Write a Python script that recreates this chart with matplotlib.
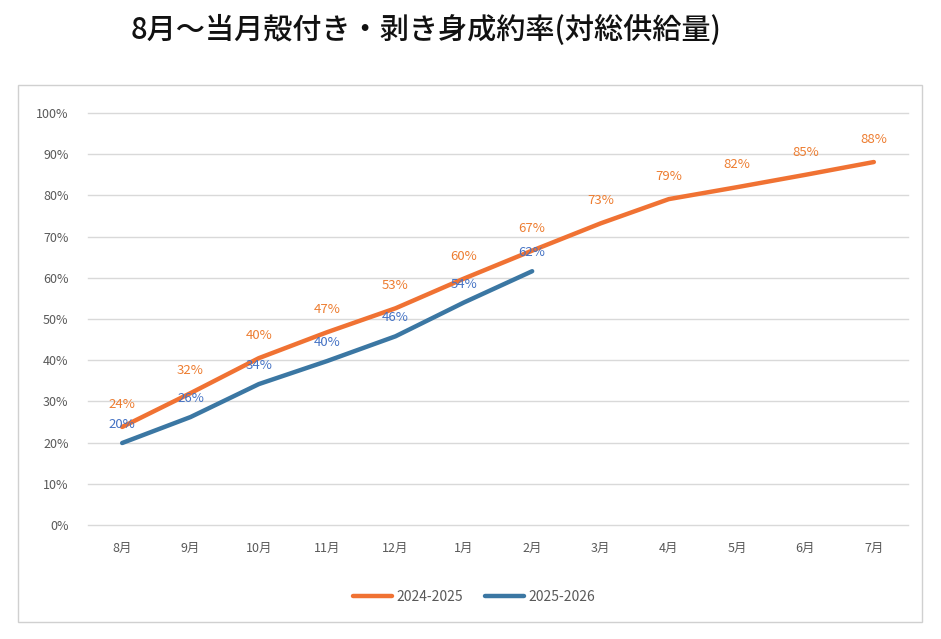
import matplotlib.pyplot as plt
from matplotlib.patches import Rectangle
from matplotlib.ticker import FuncFormatter

plt.rcParams['font.family'] = ['Noto Sans CJK JP', 'DejaVu Sans']

months = ['8月', '9月', '10月', '11月', '12月', '1月', '2月', '3月', '4月', '5月', '6月', '7月']
rate_2024 = [24, 32, 40, 47, 53, 60, 67, 73, 79, 82, 85, 88]
rate_2025 = [20, 26, 34, 40, 46, 54, 62]
raw_2024 = [23.8, 32.0, 40.5, 46.8, 52.6, 59.8, 66.6, 73.2, 79.1, 82.0, 85.0, 88.1]
raw_2025 = [19.9, 26.2, 34.2, 39.8, 45.8, 54.0, 61.6]

orange = '#F07233'
blue = '#3B77A3'
orange_txt = '#ED7D31'
blue_txt = '#4472C4'

fig = plt.figure(figsize=(9.41, 6.39), dpi=100)
fig.patches.append(Rectangle((18 / 941, 1 - 622 / 639), 904 / 941, 537 / 639,
                             transform=fig.transFigure, fill=False,
                             edgecolor='#D0D0D0', linewidth=1))
ax = fig.add_axes([88 / 941, 1 - 525 / 639, 820 / 941, 412 / 639])

x1 = list(range(len(raw_2024)))
x2 = list(range(len(raw_2025)))
ax.plot(x1, raw_2024, color=orange, linewidth=3.2, label='2024-2025', solid_capstyle='round')
ax.plot(x2, raw_2025, color=blue, linewidth=3.2, label='2025-2026', solid_capstyle='round')

for i, v in enumerate(rate_2024):
    ax.annotate(f'{v}%', (x1[i], raw_2024[i]), xytext=(0, 11.5), textcoords='offset points',
                ha='center', va='bottom', color=orange_txt, fontsize=9.5)
for i, v in enumerate(rate_2025):
    ax.annotate(f'{v}%', (x2[i], raw_2025[i]), xytext=(0, 8.5), textcoords='offset points',
                ha='center', va='bottom', color=blue_txt, fontsize=9.5)

ax.set_xlim(-0.5, len(months) - 0.5)
ax.set_ylim(0, 100)
ax.set_xticks(range(len(months)))
ax.set_xticklabels(months)
ax.set_yticks(range(0, 101, 10))
ax.yaxis.set_major_formatter(FuncFormatter(lambda v, p: f'{int(v)}%'))
ax.tick_params(axis='both', length=0, colors='#595959', labelsize=9)
ax.tick_params(axis='x', pad=12)
ax.tick_params(axis='y', pad=14)
ax.grid(axis='y', color='#D9D9D9', linewidth=1)
for gl in ax.get_ygridlines():
    gl.set_clip_on(False)
ax.set_axisbelow(True)
for s in ax.spines.values():
    s.set_visible(False)

fig.text(426 / 941, 1 - 30 / 639, '8月〜当月殻付き・剥き身成約率(対総供給量)',
         ha='center', va='center', fontsize=21, fontweight='medium', color='#111111')

fig.legend(loc='center', bbox_to_anchor=(474 / 941, 1 - 597 / 639), ncol=2, frameon=False,
           fontsize=10, labelcolor='#595959', handlelength=2.8, handletextpad=0.3,
           columnspacing=1.6)

fig.savefig('out.png', dpi=100)
